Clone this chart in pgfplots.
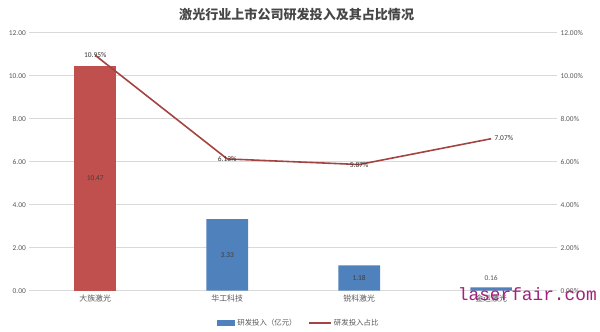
\documentclass[border=0pt]{standalone}
\usepackage{fontspec}
\setmainfont{Carlito}
\newfontfamily\cjk{Noto Sans CJK SC}
\usepackage{pgfplots}
\pgfplotsset{compat=1.18}
\definecolor{redbar}{HTML}{C0504D}
\definecolor{bluebar}{HTML}{4F81BD}
\definecolor{gridc}{HTML}{D9D9D9}
\definecolor{txt}{HTML}{595959}
\definecolor{lf}{HTML}{A3207E}
\begin{document}
\begin{tikzpicture}[x=1bp,y=1bp]
\path[fill=white] (0,0) rectangle (600,333);
\node[font=\cjk\bfseries\fontsize{13.2}{15}\selectfont, text=txt!80!black] at (299,318) {激光行业上市公司研发投入及其占比情况};
\begin{axis}[
  at={(29.5bp,40bp)}, anchor=south west,
  scale only axis, width=532bp, height=260bp,
  xmin=-0.5, xmax=3.5, ymin=0, ymax=12,
  axis line style={draw=none},
  tick style={draw=none},
  ymajorgrids, grid style={gridc, line width=0.6bp},
  ytick={0,2,...,12},
  yticklabel style={font=\fontsize{7.5}{8}\selectfont, text=txt},
  yticklabel={\pgfmathprintnumber[fixed,fixed zerofill,precision=2]{\tick}},
  /pgf/number format/assume math mode=true,
  xtick={0,1,2,3},
  xticklabels={大族激光,华工科技,锐科激光,金运激光},
  xticklabel style={font=\cjk\fontsize{8}{9}\selectfont, text=txt, yshift=-1bp},
  clip=false,
  legend style={at={(0.51,-0.095)}, anchor=north, draw=none, legend columns=2,
    font=\cjk\fontsize{7.5}{8}\selectfont, text=txt,
    /tikz/every even column/.append style={column sep=10bp}},
]
\addplot[ybar, bar width=42bp, fill=redbar, draw=none, forget plot] coordinates {(0,10.47)};
\addplot[ybar, bar width=42bp, fill=bluebar, draw=none,
  legend image code/.code={\fill[bluebar] (0bp,-3bp) rectangle (19bp,3bp);}]
  coordinates {(1,3.33) (2,1.18) (3,0.16)};
\addlegendentry{研发投入（亿元）}
\addplot[redbar!85!black, line width=1.6bp, mark=none,
  legend image code/.code={\draw[redbar!85!black, line width=1.6bp] (0bp,0bp) -- (22bp,0bp);}]
  coordinates {(0,10.95) (1,6.13) (2,5.87) (3,7.07)};
\addlegendentry{研发投入占比}
% bar value labels
\addplot[draw=none, mark=none, nodes near coords, point meta=explicit symbolic,
  every node near coord/.style={anchor=center, font=\fontsize{7.5}{8}\selectfont, text=txt!70!black}]
  coordinates {(0,5.235)[10.47] (1,1.665)[3.33] (2,0.59)[1.18]};
\addplot[draw=none, mark=none, nodes near coords, point meta=explicit symbolic,
  every node near coord/.style={anchor=south, yshift=3bp, font=\fontsize{7.5}{8}\selectfont, text=txt}]
  coordinates {(3,0.16)[0.16]};
% line labels
\addplot[draw=none, mark=none, nodes near coords, point meta=explicit symbolic,
  every node near coord/.style={anchor=center, font=\fontsize{7.5}{8}\selectfont, text=txt!60!black}]
  coordinates {(0,10.95)[10.95\%] (1,6.13)[6.13\%] (2,5.87)[5.87\%]};
\addplot[draw=none, mark=none, nodes near coords, point meta=explicit symbolic,
  every node near coord/.style={anchor=west, xshift=0bp, yshift=1bp, font=\fontsize{7.5}{8}\selectfont, text=txt!60!black}]
  coordinates {(3,7.07)[7.07\%]};
\end{axis}
\begin{axis}[
  at={(29.5bp,40bp)}, anchor=south west,
  scale only axis, width=532bp, height=260bp,
  xmin=-0.5, xmax=3.5, ymin=0, ymax=12,
  axis line style={draw=none}, tick style={draw=none},
  hide x axis,
  axis y line*=right,
  ytick={0,2,...,12},
  yticklabel style={font=\fontsize{7.5}{8}\selectfont, text=txt},
  yticklabel={\pgfmathprintnumber[fixed,fixed zerofill,precision=2]{\tick}\%},
  /pgf/number format/assume math mode=true,
]
\end{axis}
\node[font=\fontsize{18}{18}\selectfont, text=lf, anchor=base west] at (458,30) {\fontspec{Liberation Mono}laserfair.com};
\end{tikzpicture}
\end{document}
